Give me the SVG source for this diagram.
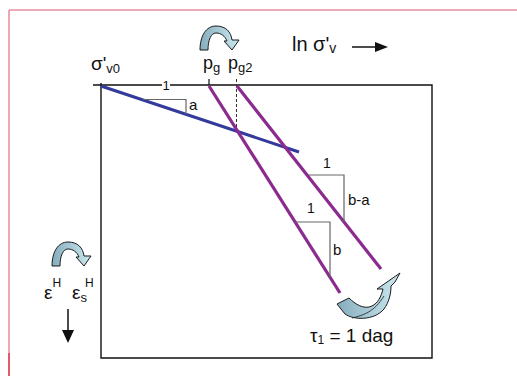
<svg xmlns="http://www.w3.org/2000/svg" width="517" height="376" viewBox="0 0 517 376">
<style>
text{font-family:"Liberation Sans",Arial,sans-serif;fill:#111}
.lbl{font-size:15px}
.big{font-size:18px}
.sub{font-size:13px}
.box{stroke:#111;stroke-width:1.4;fill:none}
.tri{stroke:#666;stroke-width:1.2;fill:none}
.blue{stroke:#333a9c;stroke-width:3;stroke-linecap:butt}
.purple{stroke:#8b2a8f;stroke-width:3.2}
.curl{fill:url(#g);stroke:#1a1a1a;stroke-width:1}
</style>
<defs>
<linearGradient id="g" x1="0" y1="0" x2="1" y2="0">
<stop offset="0" stop-color="#86adbd"/>
<stop offset="1" stop-color="#cbe8f0"/>
</linearGradient>
<path id="curl" d="M200,50 C200,36 206,26 216,26 C226,26 231,32 232,40 L239,40 L232,50 L224,41 L227,41 C225,36 221,33 216,33 C211,33 208,40 208,50 Z"/>
</defs>
<g id="frame">
<line x1="9" y1="10" x2="517" y2="10" stroke="#e391a0" stroke-width="1.5"/>
<line x1="9" y1="10" x2="9" y2="353" stroke="#e58a9a" stroke-width="1.5"/>
<line x1="9" y1="353" x2="9" y2="376" stroke="#d8243a" stroke-width="1.5"/>
</g>
<g id="plot-box">
<path class="box" d="M101,83 V358 H432 V85 H170 M162,85 H93"/>
<line x1="209" y1="79" x2="209" y2="85" stroke="#111" stroke-width="1.2"/>
<line x1="236.5" y1="79" x2="236.5" y2="127" stroke="#333" stroke-width="1" stroke-dasharray="3,2"/>
</g>
<g id="connectors">
<line class="blue" x1="101" y1="86" x2="299" y2="152"/>
<line class="purple" x1="209" y1="86" x2="340" y2="293"/>
<line class="purple" x1="237" y1="86" x2="381" y2="269"/>
<path class="tri" d="M143,99.5 H186 V114"/>
<path class="tri" d="M309,175 H344 V222"/>
<path class="tri" d="M295,222 H330 V277"/>
</g>
<g id="labels">
<text font-size="19" x="91" y="70">σ'<tspan class="sub" dy="3">v0</tspan></text>
<text class="big" x="203" y="69">p<tspan class="sub" dy="3">g</tspan></text>
<text class="big" x="228" y="69">p<tspan class="sub" dy="3">g2</tspan></text>
<text font-size="20" x="292" y="51">ln σ'<tspan font-size="14" dy="2">v</tspan></text>
<text font-size="13" x="166" y="90" text-anchor="middle">1</text>
<text class="lbl" x="189" y="110">a</text>
<text font-size="14" x="327" y="168" text-anchor="middle">1</text>
<text class="lbl" x="348" y="205">b-a</text>
<text font-size="14" x="311" y="213" text-anchor="middle">1</text>
<text class="lbl" x="333" y="255">b</text>
<text font-size="19" x="310" y="342">τ<tspan font-size="12" dy="2">1</tspan><tspan dy="-2"> = 1 dag</tspan></text>
<text font-size="19" x="44" y="299">ε<tspan font-size="12" dy="-12">H</tspan></text>
<text font-size="19" x="72" y="299">ε<tspan font-size="13" dy="3">s</tspan></text>
<text font-size="12" x="85" y="287">H</text>
</g>
<g id="arrows">
<line x1="352" y1="47" x2="377" y2="47" stroke="#111" stroke-width="1.5"/>
<polygon points="375,42 388,47 375,52" fill="#111"/>
<line x1="68" y1="309" x2="68" y2="332" stroke="#111" stroke-width="1.5"/>
<polygon points="62,330 74,330 68,343" fill="#111"/>
<use href="#curl" class="curl"/>
<use href="#curl" class="curl" transform="translate(-148,216)"/>
<path class="curl" d="M337,304 L345,314 C353,320 374,321 384,309 C389,302 391,294 391,286 L395,282 L400,273 L377,289 L383,289 C381,297 378,303 372,306 C364,310 355,304 349,298 Z"/>
<path d="M352,318 C364,315 374,312 384,296" fill="none" stroke="#1a1a1a" stroke-width="0.8"/>
</g>
</svg>
